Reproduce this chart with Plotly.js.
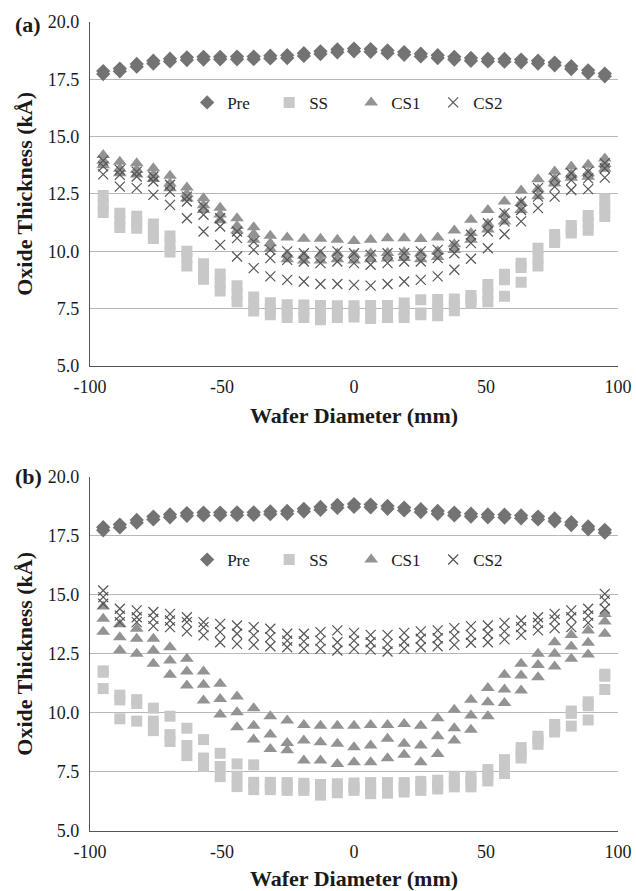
<!DOCTYPE html>
<html><head><meta charset="utf-8">
<script src="https://cdn.plot.ly/plotly-3.0.1.min.js"></script>
<style>html,body{margin:0;padding:0;background:#fff}#chart{width:636px;height:891px}</style>
</head><body><div id="chart"></div>
<script>
// Radial positions across the wafer (mm)
const xPos = [-95, -88.7, -82.3, -76, -69.7, -63.3, -57, -50.7, -44.3, -38, -31.7, -25.3, -19, -12.7, -6.3, 0,
              6.3, 12.7, 19, 25.3, 31.7, 38, 44.3, 50.7, 57, 63.3, 69.7, 76, 82.3, 88.7, 95];
const xTickVals = [-100, -50, 0, 50, 100];
const xTickText = ['-100', '-50', '0', '50', '100'];
const yTickVals = [5, 7.5, 10, 12.5, 15, 17.5, 20];
const yTickText = ['5.0', '7.5', '10.0', '12.5', '15.0', '17.5', '20.0'];
const seriesNames = ['Pre', 'SS', 'CS1', 'CS2'];

// Pre (same wafer pre-measurement, two scans)
const preScan1 = [17.86, 17.97, 18.17, 18.31, 18.40, 18.46, 18.48, 18.48, 18.49, 18.49, 18.53, 18.55, 18.64, 18.72, 18.80, 18.84,
                  18.82, 18.76, 18.69, 18.62, 18.55, 18.48, 18.43, 18.40, 18.39, 18.36, 18.31, 18.23, 18.07, 17.89, 17.75];
const preScan2 = [17.73, 17.85, 18.05, 18.19, 18.28, 18.34, 18.36, 18.37, 18.37, 18.38, 18.41, 18.43, 18.52, 18.60, 18.68, 18.72,
                  18.70, 18.64, 18.57, 18.50, 18.43, 18.36, 18.31, 18.28, 18.27, 18.24, 18.19, 18.11, 17.95, 17.77, 17.63];

// Panel (a)
const aSS1 = [12.43, 11.66, 11.53, 11.19, 10.66, 10.00, 9.45, 9.01, 8.49, 8.00, 7.75, 7.66, 7.65, 7.63, 7.62, 7.62,
              7.63, 7.63, 7.74, 7.88, 7.89, 7.92, 8.07, 8.55, 9.00, 9.48, 10.13, 10.73, 11.12, 11.56, 12.29];
const aSS2 = [12.05, 11.35, 11.25, 10.85, 10.30, 9.70, 9.10, 8.62, 8.12, 7.68, 7.48, 7.40, 7.36, 7.30, 7.35, 7.38,
              7.33, 7.38, 7.42, 7.30, 7.52, 7.64, 7.88, 8.15, 8.75, 9.29, 9.72, 10.55, 10.95, 11.25, 11.90];
const aSS3 = [11.69, 11.03, 11.00, 10.55, 9.97, 9.36, 8.78, 8.26, 7.79, 7.39, 7.23, 7.11, 7.11, 7.01, 7.11, 7.13,
              7.07, 7.11, 7.11, 7.23, 7.18, 7.40, 7.73, 7.79, 8.03, 8.65, 9.36, 10.38, 10.79, 10.92, 11.52];
const aCS1a = [14.20, 13.90, 13.84, 13.62, 13.29, 12.78, 12.31, 11.90, 11.44, 11.05, 10.67, 10.60, 10.54, 10.54, 10.50, 10.45,
               10.50, 10.57, 10.57, 10.53, 10.60, 10.90, 11.37, 11.80, 12.17, 12.65, 13.14, 13.48, 13.70, 13.77, 14.05];
const aCS1b = [13.95, 13.60, 13.55, 13.35, 12.95, 12.50, 12.00, 11.60, 11.10, 10.75, 10.35, 9.85, 9.80, 9.85, 9.90, 9.85,
               9.90, 9.92, 9.95, 9.90, 10.00, 10.30, 10.80, 11.20, 11.60, 12.10, 12.70, 13.15, 13.35, 13.40, 13.80];
const aCS1c = [13.75, 13.40, 13.35, 13.15, 12.75, 12.30, 11.80, 11.35, 10.90, 10.50, 10.10, 9.65, 9.60, 9.60, 9.65, 9.60,
               9.65, 9.68, 9.70, 9.65, 9.75, 10.05, 10.50, 10.95, 11.30, 11.80, 12.40, 12.95, 13.20, 13.25, 13.60];
const aCS2a = [13.95, 13.55, 13.47, 13.26, 12.90, 12.38, 11.95, 11.44, 10.86, 10.42, 10.06, 9.99, 9.91, 9.99, 9.99, 9.91,
               9.84, 9.91, 9.91, 9.99, 10.06, 10.28, 10.72, 11.22, 11.66, 12.17, 12.75, 13.18, 13.40, 13.47, 13.84];
const aCS2b = [13.70, 13.33, 13.26, 13.04, 12.60, 12.17, 11.59, 11.08, 10.57, 10.06, 9.70, 9.62, 9.55, 9.48, 9.55, 9.48,
               9.41, 9.48, 9.55, 9.55, 9.70, 9.91, 10.35, 10.86, 11.30, 11.80, 12.38, 12.82, 13.10, 13.18, 13.62];
const aCS2c = [13.35, 12.82, 12.75, 12.46, 12.02, 11.44, 10.86, 10.28, 9.77, 9.26, 8.90, 8.75, 8.68, 8.57, 8.57, 8.53,
               8.50, 8.57, 8.68, 8.75, 8.90, 9.19, 9.67, 10.13, 10.74, 11.30, 11.88, 12.38, 12.67, 12.71, 13.21];

// Panel (b)
const bSS1 = [11.78, 10.75, 10.56, 10.20, 9.86, 9.35, 8.87, 8.29, 7.84, 7.80, 7.06, 7.05, 7.02, 6.97, 7.00, 7.03,
              7.05, 7.05, 7.05, 7.10, 7.15, 7.32, 7.32, 7.60, 8.02, 8.53, 9.01, 9.51, 10.08, 10.47, 11.64];
const bSS2 = [11.72, 10.55, 10.40, 9.65, 9.08, 8.62, 8.09, 7.73, 7.32, 7.06, 6.90, 6.88, 6.85, 6.75, 6.80, 6.85,
              6.80, 6.82, 6.85, 6.90, 6.95, 7.10, 7.10, 7.35, 7.70, 8.30, 8.85, 9.36, 9.98, 10.30, 11.55];
const bSS3 = [11.03, 9.75, 9.65, 9.25, 8.79, 8.19, 7.73, 7.30, 6.88, 6.75, 6.75, 6.72, 6.72, 6.52, 6.62, 6.72,
              6.58, 6.60, 6.65, 6.72, 6.78, 6.87, 6.87, 7.12, 7.43, 8.09, 8.67, 9.19, 9.44, 9.70, 10.99];
const bCS1a = [14.50, 13.75, 13.56, 13.14, 12.78, 12.29, 11.75, 11.23, 10.69, 10.20, 9.86, 9.68, 9.49, 9.46, 9.46, 9.46,
               9.49, 9.49, 9.53, 9.46, 9.77, 10.13, 10.56, 11.05, 11.61, 12.08, 12.50, 12.99, 13.30, 13.49, 14.19];
const bCS1b = [13.99, 13.20, 13.14, 12.64, 12.22, 11.75, 11.19, 10.59, 10.03, 9.46, 9.08, 8.73, 8.83, 8.76, 8.69, 8.55,
               8.62, 8.90, 8.69, 8.62, 9.01, 9.35, 9.89, 10.45, 10.99, 11.58, 12.03, 12.50, 12.81, 12.97, 13.87];
const bCS1c = [13.43, 12.65, 12.50, 12.08, 11.61, 11.16, 10.52, 9.93, 9.39, 8.87, 8.47, 8.42, 7.98, 7.98, 7.84, 7.91,
               7.91, 8.08, 8.23, 7.91, 8.26, 8.83, 9.29, 9.86, 10.42, 10.95, 11.51, 11.96, 12.29, 12.47, 13.35];
const bCS2a = [15.18, 14.41, 14.34, 14.27, 14.19, 14.05, 13.84, 13.77, 13.70, 13.63, 13.56, 13.35, 13.35, 13.42, 13.49, 13.39,
               13.30, 13.30, 13.39, 13.45, 13.49, 13.59, 13.67, 13.70, 13.81, 13.91, 14.05, 14.19, 14.34, 14.41, 15.04];
const bCS2b = [14.90, 14.12, 14.05, 13.98, 13.91, 13.84, 13.63, 13.42, 13.35, 13.28, 13.21, 13.06, 13.03, 13.06, 12.99, 13.06,
               12.99, 12.92, 13.02, 13.14, 13.16, 13.25, 13.30, 13.35, 13.45, 13.63, 13.81, 13.95, 14.05, 14.12, 14.76];
const bCS2c = [14.62, 13.84, 13.84, 13.67, 13.63, 13.45, 13.28, 12.99, 12.92, 12.88, 12.82, 12.78, 12.71, 12.71, 12.64, 12.71,
               12.68, 12.60, 12.71, 12.78, 12.82, 12.88, 12.97, 12.99, 13.11, 13.30, 13.49, 13.59, 13.63, 13.81, 14.41];

const serif = 'Liberation Serif, Times New Roman, serif';
const styles = [
  {symbol: 'diamond', size: 11, color: '#737373'},
  {symbol: 'square', size: 11, color: '#c8c8c8'},
  {symbol: 'triangle-up', size: 12, color: '#939393'},
  {symbol: 'x-thin', size: 10, color: '#555555', line: {color: '#555555', width: 1.2}}
];

function rep(n) { let out = []; for (let i = 0; i < n; i++) out = out.concat(xPos); return out; }

function panelTraces(groups, xa, ya, legendId) {
  return groups.map((scans, k) => ({
    type: 'scatter', mode: 'markers', name: seriesNames[k],
    x: rep(scans.length), y: [].concat(...scans),
    xaxis: xa, yaxis: ya, legend: legendId,
    marker: Object.assign({}, styles[k], {line: styles[k].line || {width: 0}}),
    hoverinfo: 'x+y'
  }));
}

const data = []
  .concat(panelTraces([[preScan1, preScan2], [aSS1, aSS2, aSS3], [aCS1a, aCS1b, aCS1c], [aCS2a, aCS2b, aCS2c]], 'x', 'y', 'legend'))
  .concat(panelTraces([[preScan1, preScan2], [bSS1, bSS2, bSS3], [bCS1a, bCS1b, bCS1c], [bCS2a, bCS2b, bCS2c]], 'x2', 'y2', 'legend2'));

const tickFont = {family: serif, size: 18, color: '#1a1a1a'};
const titleFont = {family: serif, size: 22, color: '#1a1a1a', weight: 'bold'};
const legendFont = {family: serif, size: 17, color: '#1a1a1a'};

function xAxis(anchor) {
  return {anchor: anchor, domain: [0, 1], range: [-100, 100], tickvals: xTickVals, ticktext: xTickText,
    showgrid: false, zeroline: false, showline: true, linecolor: '#555555', linewidth: 1.3, ticks: '',
    tickfont: tickFont, ticklabelstandoff: 4,
    title: {text: 'Wafer Diameter (mm)', font: titleFont, standoff: 12}};
}
function yAxis(anchor, dom) {
  return {anchor: anchor, domain: dom, range: [5, 20], tickvals: yTickVals, ticktext: yTickText,
    showgrid: true, gridcolor: '#b8b8b8', gridwidth: 1, zeroline: false, showline: true,
    linecolor: '#555555', linewidth: 1.3, ticks: '', tickfont: tickFont, ticklabelstandoff: 6,
    title: {text: 'Oxide Thickness (kÅ)', font: titleFont, standoff: 9}};
}
function legendAt(y) {
  return {orientation: 'h', x: 0.184, y: y, xanchor: 'left', yanchor: 'middle', font: legendFont,
    bgcolor: 'rgba(0,0,0,0)', entrywidth: 37, itemwidth: 30};
}

const layout = {
  width: 636, height: 891,
  margin: {l: 90, r: 18, t: 22, b: 60},
  paper_bgcolor: '#ffffff', plot_bgcolor: '#ffffff',
  showlegend: true,
  xaxis: xAxis('y'), yaxis: yAxis('x', [0.575, 1]),
  xaxis2: xAxis('y2'), yaxis2: yAxis('x2', [0, 0.438]),
  legend: legendAt(0.900), legend2: legendAt(0.335),
  annotations: [
    {text: '(a)', xref: 'paper', yref: 'paper', x: -0.117, y: 0.9963, showarrow: false,
     font: {family: serif, size: 22, color: '#1a1a1a', weight: 'bold'}, xanchor: 'center', yanchor: 'middle'},
    {text: '(b)', xref: 'paper', yref: 'paper', x: -0.117, y: 0.4376, showarrow: false,
     font: {family: serif, size: 22, color: '#1a1a1a', weight: 'bold'}, xanchor: 'center', yanchor: 'middle'}
  ]
};

Plotly.newPlot('chart', data, layout, {displayModeBar: false, responsive: false});
</script>
</body></html>
